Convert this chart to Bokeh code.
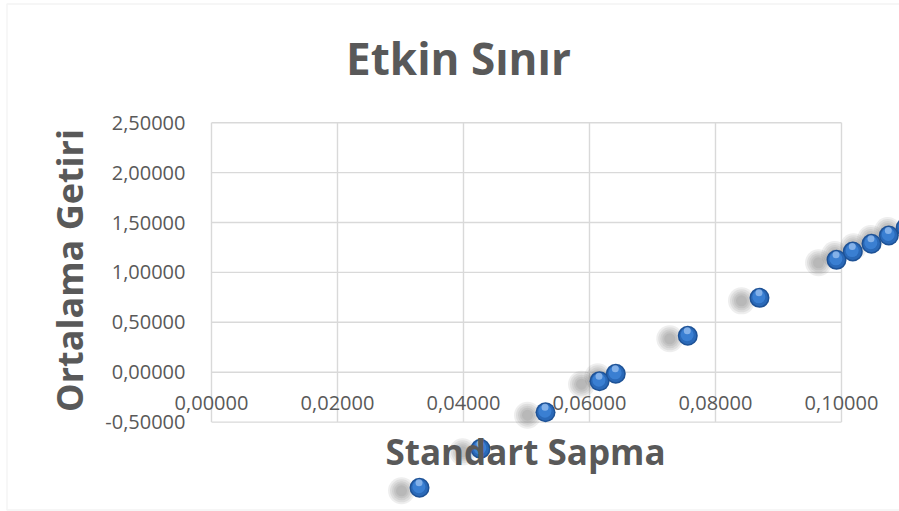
import math
from bokeh.plotting import figure
from bokeh.models import (LinearAxis, FixedTicker, CustomJSTickFormatter, Label,
                          BoxAnnotation, Range1d)
from bokeh.embed import file_html
from bokeh.resources import INLINE

# ---------------- data ----------------
std_dev = [0.03302, 0.04270, 0.05302, 0.06159, 0.06417, 0.07560,
           0.08698, 0.09921, 0.10179, 0.10476, 0.10751, 0.11020]
mean_ret = [-1.158, -0.768, -0.401, -0.090, -0.016, 0.365,
            0.745, 1.126, 1.209, 1.287, 1.370, 1.450]
x_ticks = [0.0, 0.02, 0.04, 0.06, 0.08, 0.10]
y_ticks = [-0.5, 0.0, 0.5, 1.0, 1.5, 2.0, 2.5]
title_text = "Etkin Sınır"
x_title = "Standart Sapma"
y_title = "Ortalama Getiri"

# ---------------- layout ----------------
W, H = 899, 511
X0_PX = 211.0      # canvas px where x = 0
Y0_PX = 371.7      # canvas px where y = 0
XS = 6300.0        # px per x unit
YS = 99.8          # px per y unit

x_start = -X0_PX / XS
x_end = x_start + W / XS
y_end = Y0_PX / YS
y_start = y_end - H / YS


def px2x(px):
    return x_start + px / XS


def px2y(py):
    return y_end - py / YS


TXT = "#595959"
GRID = "#d9d9d9"
FONT = "Open Sans"

p = figure(width=W, height=H, x_range=Range1d(x_start, x_end),
           y_range=Range1d(y_start, y_end), output_backend="svg",
           toolbar_location=None, x_axis_type=None, y_axis_type=None,
           min_border=0)
p.outline_line_color = None
p.background_fill_color = "white"
p.border_fill_color = "white"

# chart border (left / top / bottom visible)
p.add_layout(BoxAnnotation(left=px2x(6.5), right=px2x(1200), top=px2y(3.5),
                           bottom=px2y(509.5), fill_alpha=0,
                           line_color=GRID, line_width=1.5))

# grid lines
n_x, n_y = len(x_ticks), len(y_ticks)
p.segment(x0=x_ticks, y0=[y_ticks[0]] * n_x, x1=x_ticks, y1=[y_ticks[-1]] * n_x,
          line_color=GRID, line_width=1.4)
p.segment(x0=[x_ticks[0]] * n_y, y0=y_ticks, x1=[x_ticks[-1]] * n_y, y1=y_ticks,
          line_color=GRID, line_width=1.4)

fmt = CustomJSTickFormatter(code="return tick.toFixed(5).replace('.', ',');")

xa = LinearAxis(ticker=FixedTicker(ticks=x_ticks), formatter=fmt,
                fixed_location=0, axis_line_color=None,
                major_tick_line_color=None, minor_tick_line_color=None,
                major_label_standoff=18, major_label_text_font=FONT,
                major_label_text_font_size="20px",
                major_label_text_color=TXT)
p.add_layout(xa, "below")

ya = LinearAxis(ticker=FixedTicker(ticks=y_ticks), formatter=fmt,
                fixed_location=0, axis_line_color=None,
                major_tick_line_color=None, minor_tick_line_color=None,
                major_label_standoff=20, major_label_text_font=FONT,
                major_label_text_font_size="20px",
                major_label_text_color=TXT)
p.add_layout(ya, "left")

# shadows (soft, offset to the lower left)
sdx, sdy = -18 / XS, -3 / YS
sx = [v + sdx for v in std_dev]
sy = [v + sdy for v in mean_ret]
for s in (27, 23, 19, 15, 11):
    p.scatter(sx, sy, size=s, marker="circle", fill_color="#5a5a5a",
              fill_alpha=0.10, line_color=None)

# spheres
p.scatter(std_dev, mean_ret, size=20, marker="circle", fill_color="#1e5296",
          line_color=None)
p.scatter(std_dev, mean_ret, size=17, marker="circle", fill_color="#2a69b8",
          line_color=None)
hx = [v - 0.6 / XS for v in std_dev]
hy = [v + 1.0 / YS for v in mean_ret]
p.scatter(hx, hy, size=13, marker="circle", fill_color="#3a7fd2",
          line_color=None)
hx2 = [v - 0.5 / XS for v in std_dev]
hy2 = [v + 5.0 / YS for v in mean_ret]
p.scatter(hx2, hy2, size=7, marker="circle", fill_color="#9cc2f0",
          fill_alpha=0.75, line_color=None)

# titles
p.add_layout(Label(x=px2x(458), y=px2y(57), text=title_text,
                   text_align="center", text_baseline="alphabetic",
                   text_font=FONT, text_font_style="bold",
                   text_font_size="44px", text_color=TXT))
p.add_layout(Label(x=px2x(525), y=px2y(451), text=x_title,
                   text_align="center", text_baseline="alphabetic",
                   text_font=FONT, text_font_style="bold",
                   text_font_size="35px", text_color=TXT))
p.add_layout(Label(x=px2x(69), y=px2y(270), text=y_title, angle=math.pi / 2,
                   text_align="center", text_baseline="alphabetic",
                   text_font=FONT, text_font_style="bold",
                   text_font_size="36px", text_color=TXT))

open("out.html", "w").write(file_html(p, INLINE))
